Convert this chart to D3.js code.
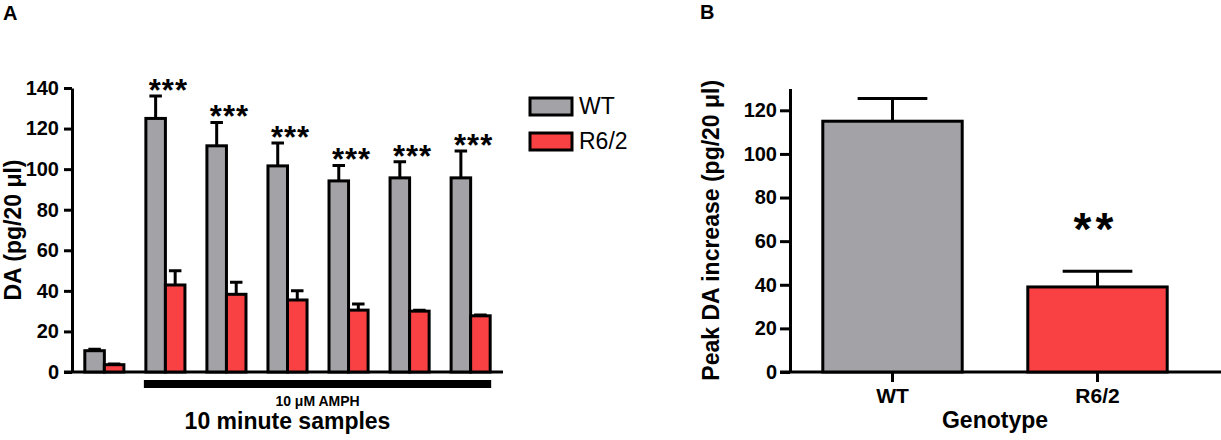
<!DOCTYPE html>
<html>
<head>
<meta charset="utf-8">
<script src="https://cdn.jsdelivr.net/npm/d3@7"></script>
<style>
  body { margin: 0; background: #fff; }
  svg text { font-family: "Liberation Sans", Arial, sans-serif; fill: #000; }
  .axis path, .axis line { stroke: #000; stroke-width: 3px; }
  .axis text { font-size: 20px; font-weight: bold; }
</style>
</head>
<body>
<div id="chart"></div>
<script>
// panel A data: 10 minute samples, WT vs R6/2
var samples = ["b1", "s1", "s2", "s3", "s4", "s5", "s6"];
var genotypes = ["WT", "R6/2"];
var wtMean = [10.5, 125, 111.5, 101.6, 94.2, 95.7, 95.7];
var wtErr = [0.7, 11, 11.5, 11.3, 7.6, 8, 13.3];
var r62Mean = [3.6, 42.9, 38.3, 35.5, 30.5, 30, 27.7];
var r62Err = [0.3, 7, 6, 4.5, 3, 0.5, 0.4];
var starsA = ["", "***", "***", "***", "***", "***", "***"];
var ticksA = [0, 20, 40, 60, 80, 100, 120, 140];

// panel B data: peak DA increase
var peakMean = [115, 39];
var peakErr = [10.4, 7.2];
var starsB = ["", "**"];
var ticksB = [0, 20, 40, 60, 80, 100, 120];

var colors = {"WT": "#a3a2a7", "R6/2": "#f94144"};

var svgWidth = 1221;
var svgHeight = 440;
var svg = d3.select("#chart").append("svg")
    .attr("width", svgWidth)
    .attr("height", svgHeight);

// ---------- PANEL A ----------
var yA = d3.scaleLinear().domain([0, 140]).range([372, 88]);
var x0 = d3.scaleBand().domain(samples).range([72, 503])
    .paddingInner(0.36).paddingOuter(0.21);
var x1 = d3.scaleBand().domain(genotypes).range([0, x0.bandwidth()]);

var gA = svg.append("g");

gA.append("text").attr("x", 3).attr("y", 20)
    .style("font-size", "20px").style("font-weight", "bold").text("A");

// x axis line (no ticks)
gA.append("line")
    .attr("x1", x0.range()[0] - 8).attr("x2", x0.range()[1])
    .attr("y1", yA(0)).attr("y2", yA(0))
    .attr("stroke", "#000").attr("stroke-width", 3);

gA.append("g").attr("class", "axis")
    .attr("transform", "translate(72,0)")
    .call(d3.axisLeft(yA).tickValues(ticksA).tickSize(8).tickPadding(5).tickSizeOuter(0));

var rowsA = samples.map(function(s, i) {
    return [
        {s: s, g: "WT", v: wtMean[i], e: wtErr[i]},
        {s: s, g: "R6/2", v: r62Mean[i], e: r62Err[i]}
    ];
});

var groups = gA.selectAll(".grp").data(rowsA).enter().append("g")
    .attr("class", "grp")
    .attr("transform", d => `translate(${x0(d[0].s)},0)`);

// error bars (upper only)
groups.selectAll(".err").data(d => d).enter().append("path")
    .attr("d", function(d) {
        var cx = x1(d.g) + x1.bandwidth() / 2;
        var cw = x1.bandwidth() * 0.32;
        return `M${cx},${yA(d.v)}V${yA(d.v + d.e)}M${cx - cw},${yA(d.v + d.e)}H${cx + cw}`;
    })
    .attr("fill", "none").attr("stroke", "#000").attr("stroke-width", 3);

groups.selectAll("rect").data(d => d).enter().append("rect")
    .attr("x", d => x1(d.g))
    .attr("y", d => yA(d.v))
    .attr("width", x1.bandwidth())
    .attr("height", d => yA(0) - yA(d.v))
    .attr("fill", d => colors[d.g])
    .attr("stroke", "#000").attr("stroke-width", 3);

// significance stars
gA.selectAll(".starA").data(samples).enter().append("text")
    .attr("x", d => x0(d) + x0.bandwidth() / 2 + 3)
    .attr("y", (d, i) => yA(wtMean[i] + wtErr[i]) + 5)
    .attr("text-anchor", "middle")
    .attr("letter-spacing", "1px")
    .style("font-size", "31px").style("font-weight", "bold")
    .text((d, i) => starsA[i]);

// amphetamine bar
var ampStart = x0(samples[1]) - 2;
var ampEnd = x0(samples[6]) + x0.bandwidth() + 1;
gA.append("rect")
    .attr("x", ampStart).attr("y", 380)
    .attr("width", ampEnd - ampStart).attr("height", 8)
    .attr("fill", "#000");
gA.append("text")
    .attr("x", (ampStart + ampEnd) / 2).attr("y", 406)
    .attr("text-anchor", "middle")
    .style("font-size", "14px").style("font-weight", "bold")
    .text("10 \u03bcM AMPH");
gA.append("text")
    .attr("x", (x0.range()[0] + x0.range()[1]) / 2).attr("y", 429)
    .attr("text-anchor", "middle")
    .style("font-size", "23px").style("font-weight", "bold")
    .text("10 minute samples");
gA.append("text")
    .attr("transform", `translate(21,${(yA(0) + yA(140)) / 2}) rotate(-90)`)
    .attr("text-anchor", "middle")
    .style("font-size", "23px").style("font-weight", "bold")
    .text("DA (pg/20 \u03bcl)");

// legend
var legend = gA.selectAll(".leg").data(genotypes).enter().append("g")
    .attr("transform", (d, i) => `translate(530,${98 + i * 35})`);
legend.append("rect")
    .attr("x", 0).attr("y", 0).attr("width", 42).attr("height", 17)
    .attr("fill", d => colors[d])
    .attr("stroke", "#000").attr("stroke-width", 3);
legend.append("text")
    .attr("x", 49).attr("y", 16)
    .style("font-size", "23px")
    .text(d => d);

// ---------- PANEL B ----------
var yB = d3.scaleLinear().domain([0, 130]).range([372, 88.5]);
var xB = d3.scaleBand().domain(genotypes).range([790, 1200])
    .paddingInner(0.32).paddingOuter(0.16);

var gB = svg.append("g");

gB.append("text").attr("x", 700).attr("y", 19)
    .style("font-size", "20px").style("font-weight", "bold").text("B");

gB.append("line")
    .attr("x1", 780).attr("x2", svgWidth)
    .attr("y1", yB(0)).attr("y2", yB(0))
    .attr("stroke", "#000").attr("stroke-width", 3);

gB.append("g").attr("class", "axis")
    .attr("transform", "translate(790,0)")
    .call(d3.axisLeft(yB).tickValues(ticksB).tickSize(10).tickPadding(3).tickSizeOuter(0));

var xAxisB = gB.append("g").attr("class", "axis")
    .attr("transform", `translate(0,${yB(0)})`)
    .call(d3.axisBottom(xB).tickSize(10).tickPadding(6).tickSizeOuter(0));
xAxisB.select(".domain").remove();
xAxisB.selectAll("text").style("font-size", "21px");

var rowsB = genotypes.map((g, i) => ({g: g, v: peakMean[i], e: peakErr[i], s: starsB[i]}));

gB.selectAll(".errB").data(rowsB).enter().append("path")
    .attr("d", function(d) {
        var cx = xB(d.g) + xB.bandwidth() / 2;
        var cw = xB.bandwidth() * 0.25;
        return `M${cx},${yB(d.v)}V${yB(d.v + d.e)}M${cx - cw},${yB(d.v + d.e)}H${cx + cw}`;
    })
    .attr("fill", "none").attr("stroke", "#000").attr("stroke-width", 3);

gB.selectAll(".barB").data(rowsB).enter().append("rect")
    .attr("x", d => xB(d.g))
    .attr("y", d => yB(d.v))
    .attr("width", xB.bandwidth())
    .attr("height", d => yB(0) - yB(d.v))
    .attr("fill", d => colors[d.g])
    .attr("stroke", "#000").attr("stroke-width", 3);

gB.selectAll(".starB").data(rowsB).enter().append("text")
    .attr("x", d => xB(d.g) + xB.bandwidth() / 2 - 2)
    .attr("y", d => yB(d.v + d.e) - 26)
    .attr("text-anchor", "middle")
    .attr("letter-spacing", "4px")
    .style("font-size", "46px").style("font-weight", "bold")
    .text(d => d.s);

gB.append("text")
    .attr("x", 995).attr("y", 428)
    .attr("text-anchor", "middle")
    .style("font-size", "23px").style("font-weight", "bold")
    .text("Genotype");
gB.append("text")
    .attr("transform", `translate(719,${(yB(0) + yB(130)) / 2}) rotate(-90)`)
    .attr("text-anchor", "middle")
    .style("font-size", "23px").style("font-weight", "bold")
    .text("Peak DA increase (pg/20 \u03bcl)");
</script>
</body>
</html>
